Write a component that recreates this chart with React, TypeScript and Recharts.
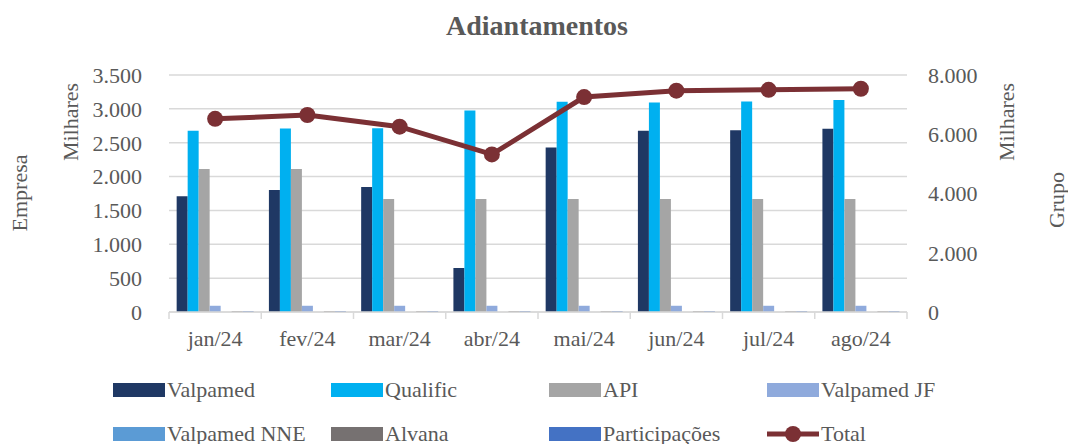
import { ComposedChart, Bar, Line, XAxis, YAxis, CartesianGrid } from "recharts";

const months = ["jan/24", "fev/24", "mar/24", "abr/24", "mai/24", "jun/24", "jul/24", "ago/24"];
const valpamed = [1710, 1800, 1845, 650, 2430, 2675, 2685, 2705];
const qualific = [2675, 2710, 2715, 2975, 3105, 3095, 3110, 3130];
const api = [2110, 2110, 1670, 1670, 1670, 1670, 1670, 1670];
const valpamedJF = [92, 92, 92, 92, 92, 92, 92, 92];
const valpamedNNE = [0, 0, 0, 0, 0, 0, 0, 0];
const alvana = [12, 12, 12, 12, 12, 12, 12, 12];
const participacoes = [14, 14, 14, 14, 14, 14, 14, 14];
const total = [6520, 6650, 6255, 5320, 7255, 7470, 7500, 7535];

const leftTicks = [0, 500, 1000, 1500, 2000, 2500, 3000, 3500];
const rightTicks = [0, 2000, 4000, 6000, 8000];

const barSeries = [
  { key: "valpamed", name: "Valpamed", color: "#1f3864", values: valpamed },
  { key: "qualific", name: "Qualific", color: "#00b0f0", values: qualific },
  { key: "api", name: "API", color: "#a5a5a5", values: api },
  { key: "valpamedJF", name: "Valpamed JF", color: "#8faadc", values: valpamedJF },
  { key: "valpamedNNE", name: "Valpamed NNE", color: "#5b9bd5", values: valpamedNNE },
  { key: "alvana", name: "Alvana", color: "#767171", values: alvana },
  { key: "participacoes", name: "Participações", color: "#4472c4", values: participacoes },
];
const lineColor = "#7b3034";

const data = months.map((m, i) => {
  const row: Record<string, string | number> = { month: m, total: total[i] };
  barSeries.forEach((s) => (row[s.key] = s.values[i]));
  return row;
});

const FONT = "Liberation Serif, DejaVu Serif, serif";
const TXT = "#595959";
const GRID = "#d9d9d9";

const fmt = (v: number) => v.toLocaleString("de-DE");

function MonthTick(props: any) {
  const { x, y, payload, index } = props;
  const half = payload?.offset ?? 46;
  const last = index === months.length - 1;
  return (
    <g>
      <line x1={x - half} x2={x - half} y1={y} y2={y + 7} stroke={GRID} strokeWidth={1.5} />
      {last && <line x1={x + half} x2={x + half} y1={y} y2={y + 7} stroke={GRID} strokeWidth={1.5} />}
      <text x={x} y={y + 34} textAnchor="middle" fill={TXT} fontSize={22} style={{ fontFamily: FONT }}>
        {payload.value}
      </text>
    </g>
  );
}

const vLabel = (text: string, cx: number, cy: number) => (
  <div
    style={{
      position: "absolute",
      left: cx - 60,
      top: cy - 14,
      width: 120,
      height: 28,
      lineHeight: "28px",
      textAlign: "center",
      transform: "rotate(-90deg)",
      fontSize: 22,
      color: TXT,
      fontFamily: FONT,
    }}
  >
    {text}
  </div>
);

export default function App() {
  const legendItems = [
    ...barSeries.map((s) => ({ name: s.name, color: s.color, line: false })),
    { name: "Total", color: lineColor, line: true },
  ];
  const colX = [113, 331, 549, 767];
  const rowY = [390, 434];

  return (
    <div style={{ position: "absolute", left: 0, top: 0, width: 1068, height: 444, background: "#fff", overflow: "hidden", fontFamily: FONT }}>
      <div style={{ position: "absolute", left: 0, top: 10, width: 1074, textAlign: "center", fontSize: 28, fontWeight: "bold", color: TXT }}>
        Adiantamentos
      </div>
      {vLabel("Milhares", 71, 122)}
      {vLabel("Empresa", 20, 193)}
      {vLabel("Milhares", 1007, 122)}
      {vLabel("Grupo", 1057, 200)}

      <ComposedChart
        width={1068}
        height={444}
        data={data}
        margin={{ top: 75, right: 0, bottom: 92, left: 0 }}
        barCategoryGap="8.3%"
        barGap={0}
        style={{ position: "absolute", left: 0, top: 0, fontFamily: FONT }}
      >
        <CartesianGrid yAxisId="left" vertical={false} stroke={GRID} strokeWidth={1.5} />
        <XAxis
          dataKey="month"
          height={40}
          tickSize={0}
          tickMargin={0}
          tickLine={false}
          axisLine={{ stroke: GRID, strokeWidth: 1.5 }}
          tick={<MonthTick />}
          interval={0}
        />
        <YAxis
          yAxisId="left"
          width={169}
          domain={[0, 3500]}
          ticks={leftTicks}
          tickFormatter={fmt}
          axisLine={false}
          tickLine={false}
          tickMargin={21}
          tick={{ fontSize: 22, fill: TXT, style: { fontFamily: FONT } }}
        />
        <YAxis
          yAxisId="right"
          orientation="right"
          width={161}
          domain={[0, 8000]}
          ticks={rightTicks}
          tickFormatter={fmt}
          axisLine={false}
          tickLine={false}
          tickMargin={15}
          tick={{ fontSize: 22, fill: TXT, style: { fontFamily: FONT } }}
        />
        {barSeries.map((s) => (
          <Bar key={s.key} yAxisId="left" dataKey={s.key} name={s.name} fill={s.color} isAnimationActive={false} />
        ))}
        <Line
          yAxisId="right"
          dataKey="total"
          name="Total"
          stroke={lineColor}
          strokeWidth={5}
          dot={{ r: 8, fill: lineColor, stroke: lineColor, strokeWidth: 0 }}
          isAnimationActive={false}
        />
      </ComposedChart>

      {legendItems.map((item, i) => {
        const x = colX[i % 4];
        const y = rowY[Math.floor(i / 4)];
        return (
          <div key={item.name} style={{ position: "absolute", left: x, top: y - 14, height: 28, display: "flex", alignItems: "center" }}>
            {item.line ? (
              <svg width={52} height={20}>
                <line x1={0} x2={52} y1={10} y2={10} stroke={item.color} strokeWidth={5} />
                <circle cx={26} cy={10} r={8} fill={item.color} />
              </svg>
            ) : (
              <div style={{ width: 52, height: 14, background: item.color }} />
            )}
            <span style={{ marginLeft: 2, fontSize: 22, color: TXT, whiteSpace: "nowrap" }}>{item.name}</span>
          </div>
        );
      })}
    </div>
  );
}
